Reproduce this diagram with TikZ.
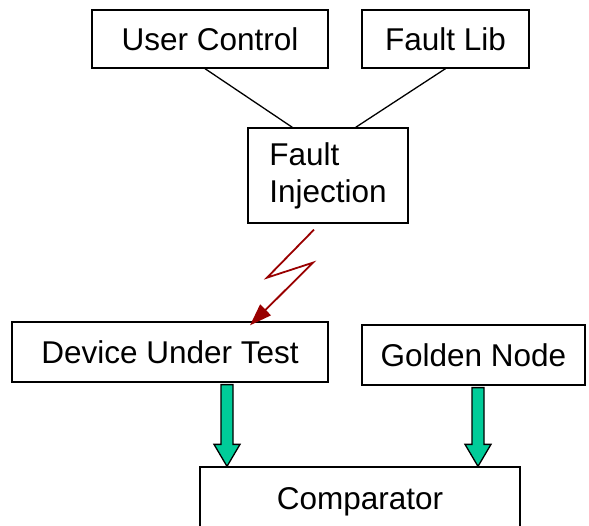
\documentclass[tikz,border=0pt]{standalone}
\usepackage{fontspec}
\setmainfont{Liberation Sans}
\usetikzlibrary{arrows.meta,calc}
\definecolor{boltred}{RGB}{153,0,0}
\definecolor{arrowgreen}{RGB}{0,204,153}
\tikzset{
  box/.style={draw, line width=1.3pt, inner sep=0pt, font=\fontsize{31.5}{37}\selectfont},
  bolt/.style={draw=boltred, line width=1.8pt, -{Triangle[length=22pt,width=15pt]}},
  fatarrow/.style={draw, line width=1.3pt, fill=arrowgreen, line join=miter}
}
\newcommand{\fatarrow}[2]{%
  \draw[fatarrow] ($(#1)+(-6,0)$) -- ($(#2)+(-6,-22)$) -- ($(#2)+(-13,-22)$) -- (#2)
    -- ($(#2)+(13,-22)$) -- ($(#2)+(6,-22)$) -- ($(#1)+(6,0)$) -- cycle;}
\begin{document}
\begin{tikzpicture}[x=1pt, y=-1pt]
  \useasboundingbox (0,0) rectangle (589,526);
  \node[box, minimum width=236pt, minimum height=58pt] (ucontrol) at (210,39) {User Control};
  \node[box, minimum width=167pt, minimum height=58pt] (faultlib) at (445.5,39) {Fault Lib};
  \node[box, minimum width=160pt, minimum height=95pt, align=left] (inject) at (328,175.5) {Fault\\Injection};
  \node[box, minimum width=316pt, minimum height=60pt] (dut) at (170,352) {Device Under Test};
  \node[box, minimum width=223pt, minimum height=60pt] (golden) at (473.5,355) {Golden Node};
  \node[box, minimum width=320pt, minimum height=70pt] (comp) at (360,502) {Comparator};
  \draw[line width=1.3pt] ([xshift=-5pt]ucontrol.south) -- ([xshift=45pt]inject.north west);
  \draw[line width=1.3pt] (faultlib.south) -- ([xshift=-53pt]inject.north east);
  \draw[bolt] ([shift={(-14pt,-6pt)}]inject.south) -- ++(-47,48) -- ++(46,-15) -- ([xshift=80pt,yshift=-4pt]dut.north);
  \coordinate (dutout) at ([xshift=57pt,yshift=-2pt]dut.south);
  \coordinate (goldout) at ([xshift=4.5pt,yshift=-2pt]golden.south);
  \fatarrow{dutout}{dutout |- comp.north}
  \fatarrow{goldout}{goldout |- comp.north}
\end{tikzpicture}
\end{document}
